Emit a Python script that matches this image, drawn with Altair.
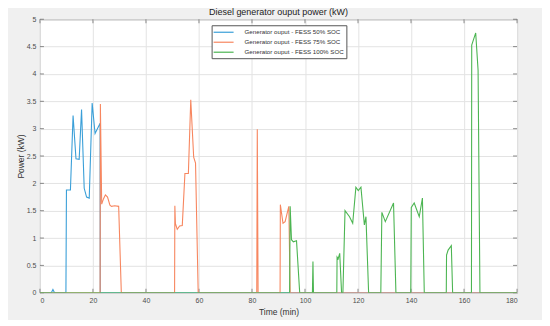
import altair as alt
import pandas as pd

# ---- data ----
names = ["Generator ouput - FESS 50% SOC",
         "Generator ouput - FESS 75% SOC",
         "Generator ouput - FESS 100% SOC"]
colors = ["#3a9fd8", "#f7865f", "#4cb552"]

t50 = [0, 4.3, 4.9, 5.5, 9.8, 10.0, 11.5, 12.5, 13.6, 14.8, 15.7, 16.7, 17.6, 18.6,
       19.7, 20.8, 22.7, 22.75, 180]
p50 = [0, 0, 0.06, 0, 0, 1.88, 1.88, 3.24, 2.45, 2.44, 3.35, 1.91, 1.75, 1.73,
       3.47, 2.91, 3.10, 0, 0]

t75 = [0, 22.7, 22.8, 23.3, 24.0, 24.7, 25.5, 26.4, 27.0, 28.2, 29.7, 30.7,
       50.8, 50.9, 51.1, 51.8, 52.7, 53.7, 54.7, 56.0, 56.9, 58.0, 58.7, 59.7,
       81.8, 82.0, 82.3, 90.6, 90.7, 91.7, 92.5, 93.9, 94.4, 180]
p75 = [0, 0, 3.45, 1.62, 1.72, 1.79, 1.75, 1.60, 1.58, 1.59, 1.58, 0,
       0, 1.59, 1.27, 1.16, 1.22, 1.23, 2.18, 2.18, 3.53, 2.48, 2.37, 0,
       0, 2.99, 0, 0, 1.61, 1.27, 1.30, 1.58, 0, 0]

t100 = [0, 94.2, 94.4, 94.9, 95.6, 96.8, 98.0, 102.8, 103.0, 103.2,
        112.0, 112.1, 112.5, 113.1, 113.8, 114.3, 115.1, 116.8, 118.0, 119.2,
        120.1, 121.1, 122.4, 123.0, 124.0, 128.6, 129.0, 130.3, 133.4, 134.3,
        139.9, 140.1, 141.2, 143.1, 144.3, 145.0, 153.3, 153.4, 154.0, 155.2,
        155.7, 162.8, 162.9, 164.4, 165.3, 166.0, 180]
p100 = [0, 0, 1.58, 0.97, 0.93, 0.95, 0, 0, 0.57, 0,
        0, 0.65, 0.62, 0.72, 0, 0, 1.50, 1.39, 1.27, 1.93,
        1.87, 1.93, 1.24, 1.39, 0, 0, 1.47, 1.30, 1.64, 0,
        0, 1.56, 1.64, 1.39, 1.73, 0, 0, 0.69, 0.78, 0.86,
        0, 0, 4.53, 4.75, 4.07, 0, 0]

x_ticks = [0, 20, 40, 60, 80, 100, 120, 140, 160, 180]
y_ticks = [0, 0.5, 1, 1.5, 2, 2.5, 3, 3.5, 4, 4.5, 5]

W, H = 478, 274
FONT = "Liberation Sans"

xscale = alt.Scale(domain=[0, 180], nice=False, zero=False)
yscale = alt.Scale(domain=[0, 5], nice=False)
cscale = alt.Scale(domain=names, range=colors)

xaxis = alt.Axis(values=x_ticks, ticks=False, domain=False, grid=True,
                 gridColor="#e3e3e3", labelFontSize=7, labelColor="#4d4d4d",
                 labelFont=FONT, labelPadding=4, title="Time (min)",
                 titleFont=FONT, titleFontSize=8.5, titleFontWeight="normal",
                 titleColor="#333333", titlePadding=4)
yaxis = alt.Axis(values=y_ticks, ticks=False, domain=False, grid=True,
                 format="~g",
                 gridColor="#e3e3e3", labelFontSize=7, labelColor="#4d4d4d",
                 labelFont=FONT, labelPadding=4, title="Power (kW)",
                 titleFont=FONT, titleFontSize=8.5, titleFontWeight="normal",
                 titleColor="#333333", titlePadding=1)


def series(t, p, name):
    df = pd.DataFrame({"t": t, "p": p, "s": [name] * len(t)})
    enc = dict(
        x=alt.X("t:Q", scale=xscale, axis=xaxis),
        y=alt.Y("p:Q", scale=yscale, axis=yaxis),
        color=alt.Color("s:N", scale=cscale, legend=alt.Legend(title=None)),
    )
    return alt.Chart(df).mark_line(strokeWidth=1.1, clip=True).encode(**enc)


l50 = series(t50, p50, names[0])
l75 = series(t75, p75, names[1])
l100 = series(t100, p100, names[2])

xt = pd.DataFrame({"t": x_ticks})
yt = pd.DataFrame({"p": y_ticks})
tick_col = "#6e6e6e"
tb = alt.Chart(xt).mark_rule(color=tick_col, strokeWidth=0.8).encode(
    x=alt.X("t:Q", scale=xscale, axis=xaxis), y=alt.value(H - 4), y2=alt.value(H))
tt = alt.Chart(xt).mark_rule(color=tick_col, strokeWidth=0.8).encode(
    x=alt.X("t:Q", scale=xscale, axis=xaxis), y=alt.value(0), y2=alt.value(4))
tl = alt.Chart(yt).mark_rule(color=tick_col, strokeWidth=0.8).encode(
    y=alt.Y("p:Q", scale=yscale, axis=yaxis), x=alt.value(0), x2=alt.value(4))
tr = alt.Chart(yt).mark_rule(color=tick_col, strokeWidth=0.8).encode(
    y=alt.Y("p:Q", scale=yscale, axis=yaxis), x=alt.value(W - 4), x2=alt.value(W))

chart = alt.layer(tb, tt, tl, tr, l50, l75, l100).properties(
    width=W, height=H,
    title=alt.TitleParams("Diesel generator ouput power (kW)", font=FONT,
                          fontSize=9, fontWeight="normal", color="#222222",
                          anchor="middle", offset=-2, frame="group"),
    background="#f0f0f0",
    padding={"left": 32, "top": 11, "right": 25, "bottom": 27},
    autosize=alt.AutoSizeParams(type="none"),
).configure_view(
    fill="white", stroke="#808080", strokeWidth=1
).configure_legend(
    orient="none", legendX=172, legendY=6, fillColor="white",
    strokeColor="#555555", padding=2, symbolType="M-2.5,0H2.5",
    symbolSize=64, symbolStrokeWidth=1.2, symbolOffset=5, labelOffset=16,
    labelFont=FONT, labelFontSize=6.2,
    labelColor="#333333", rowPadding=1, labelLimit=300, cornerRadius=0
)

chart.save("out.html", embed_options={"renderer": "svg", "actions": False})
